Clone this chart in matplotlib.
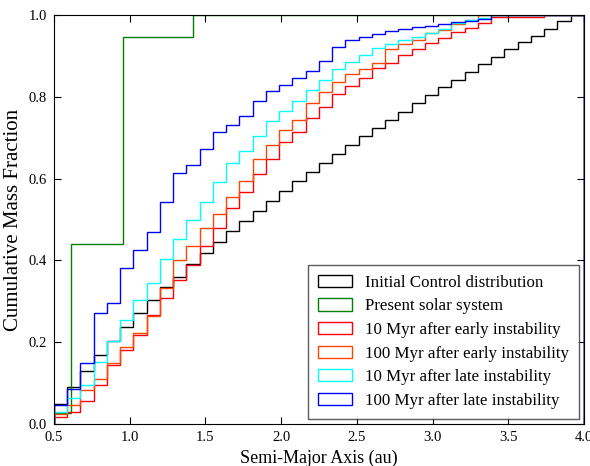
import matplotlib
matplotlib.use("Agg")
import matplotlib.pyplot as plt
from matplotlib.patches import Patch
import numpy as np

# cumulative mass fraction per bin, 40 bins between 0.5 and 4.0 au
bin_lo, bin_hi, n_bins = 0.5, 4.0, 40

initial_control = [0.05, 0.09, 0.13, 0.169, 0.203, 0.238, 0.271, 0.303, 0.336, 0.36,
                   0.391, 0.419, 0.446, 0.472, 0.497, 0.522, 0.546, 0.570, 0.594, 0.617,
                   0.639, 0.661, 0.682, 0.703, 0.723, 0.743, 0.764, 0.784, 0.804, 0.825,
                   0.841, 0.860, 0.879, 0.897, 0.916, 0.933, 0.949, 0.967, 0.985, 1.0]
early_10myr = [0.018, 0.029, 0.057, 0.096, 0.144, 0.182, 0.218, 0.267, 0.309, 0.353,
               0.390, 0.436, 0.480, 0.529, 0.568, 0.611, 0.647, 0.689, 0.715, 0.747,
               0.774, 0.806, 0.827, 0.845, 0.870, 0.883, 0.902, 0.918, 0.931, 0.945,
               0.958, 0.968, 0.981, 0.994, 0.994, 0.995, 0.996, 1.0, 1.0, 1.0]
early_100myr = [0.025, 0.046, 0.083, 0.109, 0.148, 0.189, 0.222, 0.265, 0.332, 0.401,
                0.436, 0.480, 0.513, 0.555, 0.595, 0.647, 0.682, 0.720, 0.743, 0.784,
                0.811, 0.837, 0.855, 0.867, 0.883, 0.918, 0.928, 0.939, 0.955, 0.963,
                0.977, 0.989, 1.0, 1.0, 1.0, 1.0, 1.0, 1.0, 1.0, 1.0]
late_10myr = [0.03, 0.063, 0.095, 0.152, 0.204, 0.254, 0.303, 0.345, 0.403, 0.452,
              0.499, 0.542, 0.592, 0.637, 0.668, 0.703, 0.741, 0.766, 0.790, 0.817,
              0.841, 0.867, 0.886, 0.902, 0.920, 0.928, 0.940, 0.946, 0.955, 0.966,
              0.980, 0.988, 0.993, 1.0, 1.0, 1.0, 1.0, 1.0, 1.0, 1.0]
late_100myr = [0.046, 0.085, 0.148, 0.271, 0.297, 0.381, 0.425, 0.470, 0.542, 0.613,
               0.634, 0.672, 0.713, 0.730, 0.753, 0.790, 0.815, 0.829, 0.845, 0.863,
               0.888, 0.922, 0.939, 0.947, 0.953, 0.961, 0.965, 0.970, 0.973, 0.977,
               0.982, 0.985, 0.990, 1.0, 1.0, 1.0, 1.0, 1.0, 1.0, 1.0]

# present solar system: own step edges
solar_edges = [0.5, 0.61, 0.958, 1.42, 4.0]
solar_values = [0.028, 0.44, 0.947, 1.0]

labels = ["Initial Control distribution", "Present solar system",
          "10 Myr after early instability", "100 Myr after early instability",
          "10 Myr after late instability", "100 Myr after late instability"]
colors = ["black", "green", "red", "orangered", "cyan", "blue"]

plt.rcParams['font.family'] = ['Liberation Serif', 'DejaVu Serif']
plt.rcParams['xtick.direction'] = 'in'
plt.rcParams['ytick.direction'] = 'in'

edges = np.linspace(bin_lo, bin_hi, n_bins + 1)

fig = plt.figure(figsize=(5.9, 4.66), dpi=100)
ax = fig.add_axes([0.0915, 0.0901, 0.8983, 0.8777])

series = [(edges, initial_control), (solar_edges, solar_values),
          (edges, early_10myr), (edges, early_100myr),
          (edges, late_10myr), (edges, late_100myr)]
for (e, v), c in zip(series, colors):
    ax.stairs(v, e, baseline=0, fill=False, color=c, linewidth=1.0)

ax.set_xlim(0.5, 4.0)
ax.set_ylim(0.0, 1.0)
ax.set_xticks(np.arange(0.5, 4.01, 0.5))
ax.set_yticks(np.arange(0.0, 1.01, 0.2))
ax.tick_params(top=True, right=True, labelsize=10.5, length=5, width=0.8, pad=5)
ax.set_xlabel("Semi-Major Axis (au)", fontsize=13)
ax.set_ylabel("Cumulative Mass Fraction", fontsize=15)

handles = [Patch(facecolor='none', edgecolor=c, linewidth=1.0, label=l) for c, l in zip(colors, labels)]
leg = ax.legend(handles=handles, loc='lower right', fontsize=12.2, fancybox=False,
                handlelength=2.0, handleheight=0.75, handletextpad=0.75,
                labelspacing=0.44, borderpad=0.6, borderaxespad=0.3)
leg.get_frame().set_edgecolor('#333333')
leg.get_frame().set_linewidth(1.0)

fig.savefig("out.png", dpi=100)
